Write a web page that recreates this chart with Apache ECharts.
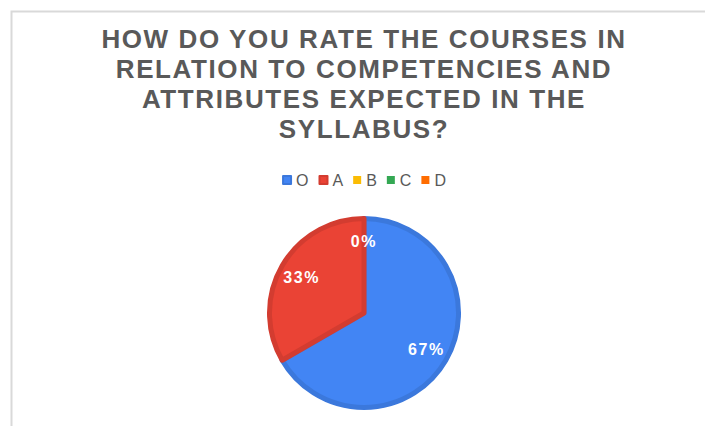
<!DOCTYPE html>
<html>
<head>
<meta charset="utf-8">
<script src="https://cdn.jsdelivr.net/npm/echarts@6/dist/echarts.min.js"></script>
<style>
  html, body { margin: 0; padding: 0; overflow: hidden; background: #fff; }
  #chart { width: 728px; height: 426px; }
  /* the source chart has its lettering spread a little */
  #chart text { letter-spacing: 1.6px; }
</style>
</head>
<body>
<div id="chart"></div>
<script>
// rating categories and how many answered each
let categories = ['O', 'A', 'B', 'C', 'D']
let counts = [2, 1, 0, 0, 0]
let colors = ['#4285F4', '#EA4335', '#FBBC04', '#34A853', '#FF6D01']
let borderColors = ['#3b78dc', '#d33c30', '#e2a904', '#2f974b', '#e56201']
let titleText = 'HOW DO YOU RATE THE COURSES IN\nRELATION TO COMPETENCIES AND\nATTRIBUTES EXPECTED IN THE\nSYLLABUS?'

let myChart = echarts.init(document.getElementById('chart'), null, { renderer: 'svg' })

let pieData = categories.map(function(name, i) {
  return {
    name: name,
    value: counts[i],
    itemStyle: {
      color: colors[i],
      borderColor: borderColors[i],
      borderWidth: counts[i] > 0 ? 5 : 0
    }
  }
})
// same values, only used to place the % labels further out
let labelData = categories.map(function(name, i) {
  return { name: name, value: counts[i] }
})

let option = {
  backgroundColor: '#fff',
  title: {
    text: titleText,
    left: 'center',
    top: 24,
    padding: 0,
    textStyle: {
      fontFamily: 'Liberation Sans',
      fontSize: 26,
      fontWeight: 'bold',
      color: '#595959',
      lineHeight: 30
    }
  },
  legend: {
    data: categories,
    top: 172,
    left: 'center',
    padding: 0,
    itemWidth: 8,
    itemHeight: 8,
    itemGap: 10,
    icon: 'rect',
    textStyle: {
      fontFamily: 'Liberation Sans',
      fontSize: 16,
      color: '#595959'
    }
  },
  graphic: [{
    type: 'rect',
    left: 9,
    top: 9,
    shape: { width: 900, height: 600 },
    style: { fill: 'none', stroke: '#d9d9d9', lineWidth: 2 },
    silent: true
  }],
  series: [
    {
      type: 'pie',
      center: [364, 313],
      radius: 94.5,
      startAngle: 90,
      clockwise: true,
      animation: false,
      label: { show: false },
      labelLine: { show: false },
      emphasis: { disabled: true },
      data: pieData
    },
    {
      type: 'pie',
      center: [364, 313],
      radius: [43, 95],
      startAngle: 90,
      clockwise: true,
      animation: false,
      silent: true,
      itemStyle: { color: 'rgba(0,0,0,0)', borderWidth: 0 },
      label: {
        show: true,
        position: 'inside',
        formatter: function(p) {
          return Math.round(p.percent) + '%'
        },
        fontFamily: 'Liberation Sans',
        fontSize: 16,
        fontWeight: 'bold',
        color: '#fff'
      },
      labelLine: { show: false },
      emphasis: { disabled: true },
      data: labelData
    }
  ]
}

myChart.setOption(option)
</script>
</body>
</html>
